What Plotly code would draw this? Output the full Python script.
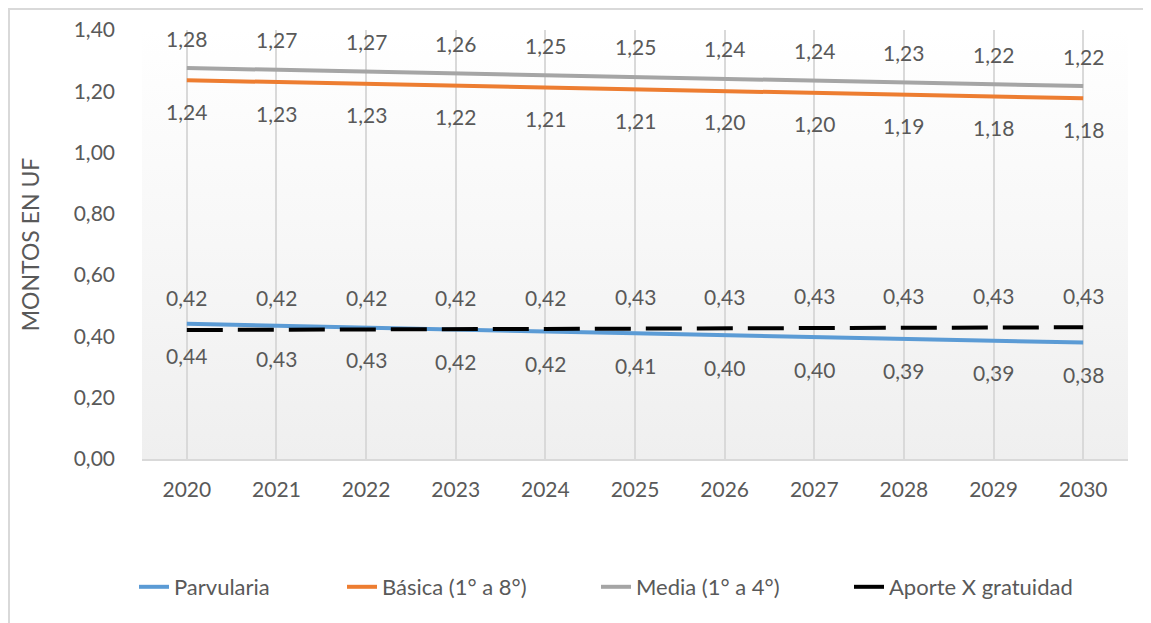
import base64
import plotly.graph_objects as go

years = [2020, 2021, 2022, 2023, 2024, 2025, 2026, 2027, 2028, 2029, 2030]
parvularia = [0.441, 0.434, 0.428, 0.422, 0.416, 0.410, 0.404, 0.398, 0.392, 0.386, 0.380]
basica = [1.236, 1.230, 1.226, 1.219, 1.213, 1.207, 1.201, 1.196, 1.189, 1.183, 1.177]
media = [1.276, 1.270, 1.266, 1.259, 1.253, 1.247, 1.241, 1.236, 1.229, 1.223, 1.217]
aporte = [0.421, 0.422, 0.423, 0.424, 0.424, 0.426, 0.427, 0.428, 0.428, 0.429, 0.430]
y_ticks = [0.0, 0.2, 0.4, 0.6, 0.8, 1.0, 1.2, 1.4]

# page body has an 8px margin: figure is drawn from (8, 8)
OFF = 8
W, H = 1151 - OFF, 623 - OFF
L, T = 142 - OFF, 30 - OFF
PW, PH = 986, 429
R = W - L - PW
B = H - T - PH

FONT = "Lato"
TXT = "#595959"

fig = go.Figure()
series = [
    ("Parvularia", parvularia, "#5b9bd5", "solid", -32, "legend", 176),
    ("Básica (1° a 8°)", basica, "#ed7d31", "solid", -31, "legend2", 384),
    ("Media (1° a 4°)", media, "#a5a5a5", "solid", 30, "legend3", 638),
    ("Aporte X gratuidad", aporte, "#000000", "36px,15px", 32, "legend4", 891),
]
for name, vals, color, dash, _, lg, _tx in series:
    fig.add_trace(go.Scatter(x=years, y=vals, mode="lines", name=name, legend=lg,
                             line=dict(color=color, width=4, dash=dash)))

annotations = []
for name, vals, color, dash, shift, _, _tx in series:
    for xv, yv in zip(years, vals):
        annotations.append(dict(x=xv, y=yv, xref="x", yref="y", showarrow=False,
                                text=f"{yv:.2f}".replace(".", ","), yshift=shift,
                                font=dict(family=FONT, size=21, color=TXT)))

# gradient plot background
svg = ('<svg xmlns="http://www.w3.org/2000/svg" width="100" height="100" preserveAspectRatio="none">'
       '<defs><linearGradient id="g" x1="0" y1="0" x2="0" y2="1">'
       '<stop offset="0" stop-color="#ffffff"/><stop offset="1" stop-color="#efefef"/>'
       '</linearGradient></defs><rect width="100" height="100" fill="url(#g)"/></svg>')
src = "data:image/svg+xml;base64," + base64.b64encode(svg.encode()).decode()

def px_x(p):
    return (p - OFF - L) / PW

def px_y(p):
    return (T + PH - (p - OFF)) / PH

shapes = [
    dict(type="line", xref="paper", yref="paper", x0=px_x(OFF), x1=px_x(1151), y0=px_y(OFF + 1),
         y1=px_y(OFF + 1), line=dict(color="#d9d9d9", width=2)),
    dict(type="line", xref="paper", yref="paper", x0=px_x(OFF + 1), x1=px_x(OFF + 1),
         y0=px_y(OFF), y1=px_y(623), line=dict(color="#d9d9d9", width=2)),
]

legends = {}
for name, vals, color, dash, shift, lg, tx in series:
    legends[lg] = dict(orientation="h", xref="container", yref="container",
                       x=(tx - OFF - 42) / W, xanchor="left",
                       y=(623 - 587) / H, yanchor="middle",
                       font=dict(family=FONT, size=22, color=TXT),
                       bgcolor="rgba(0,0,0,0)")

fig.update_layout(
    width=W, height=H, autosize=False,
    margin=dict(l=L, r=R, t=T, b=B, autoexpand=False),
    paper_bgcolor="white", plot_bgcolor="rgba(0,0,0,0)",
    separators=",.",
    font=dict(family=FONT, size=21, color=TXT),
    images=[dict(source=src, xref="paper", yref="paper", x=0, y=1, sizex=1, sizey=1,
                 xanchor="left", yanchor="top", sizing="stretch", layer="below")],
    shapes=shapes,
    annotations=annotations,
    showlegend=True,
    xaxis=dict(range=[2019.5, 2030.5], tickvals=years, ticktext=[str(y) for y in years],
               showgrid=True, gridcolor="#d9d9d9", gridwidth=2, zeroline=False,
               showline=True, linecolor="#d9d9d9", linewidth=2, ticks="", tickangle=0,
               ticklabelstandoff=11, tickfont=dict(family=FONT, size=21, color=TXT)),
    yaxis=dict(range=[0, 1.4], tickvals=y_ticks, tickformat=".2f", showgrid=False,
               zeroline=False, showline=False, ticks="", ticklabelstandoff=26,
               tickfont=dict(family=FONT, size=21, color=TXT),
               title=dict(text="MONTOS EN UF", font=dict(family=FONT, size=23, color=TXT),
                          standoff=27)),
    **legends,
)

fig.write_html("out.html")
